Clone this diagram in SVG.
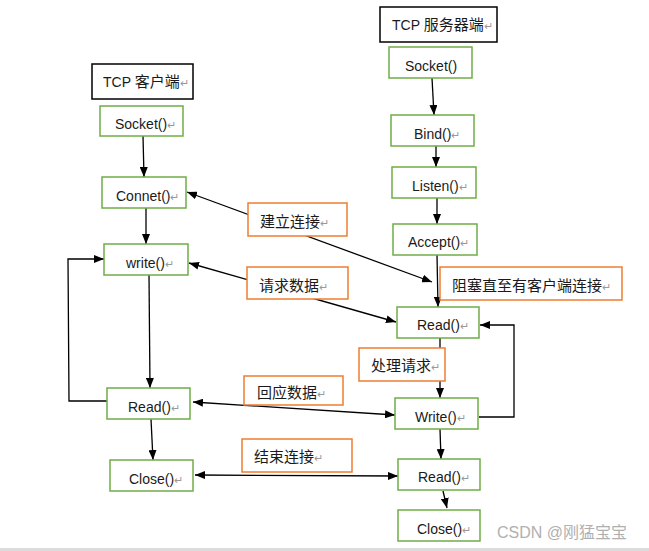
<svg xmlns="http://www.w3.org/2000/svg" width="649" height="551" viewBox="0 0 649 551">
<defs>
<style>
text{font-family:"Liberation Sans","Noto Sans CJK SC",sans-serif;font-size:14px;fill:#1a1a1a}
.cn{font-size:15px}
.r{fill:#999;font-size:11px}
.fn rect{fill:#fff;stroke:#70AD47;stroke-width:1.5}
.lb rect{fill:#fff;stroke:#ED7D31;stroke-width:1.5}
.tt rect{fill:#fff;stroke:#000;stroke-width:1.5}
#connectors line,#connectors polyline{stroke:#000;stroke-width:1.3;fill:none}
.a{marker-end:url(#ah)}
.b{marker-start:url(#ah);marker-end:url(#ah)}
.wm{fill:#b0b0b0;font-size:16px}
</style>
<marker id="ah" viewBox="0 0 10 8" refX="10" refY="4" markerWidth="10" markerHeight="8" markerUnits="userSpaceOnUse" orient="auto-start-reverse">
<path d="M0,0 L10,4 L0,8 Z" fill="#000"/>
</marker>
</defs>
<rect x="0" y="0" width="649" height="551" fill="#fff"/>
<rect x="0" y="548" width="649" height="3" fill="#dcdcdc"/>

<g id="connectors">
<line class="a" x1="143" y1="136" x2="144" y2="177"/>
<line class="a" x1="146" y1="208" x2="146" y2="244"/>
<line class="a" x1="149" y1="275" x2="150" y2="388"/>
<line class="a" x1="151" y1="419" x2="153" y2="460"/>
<polyline class="a" points="107,401 69,401 68,259 104,259"/>
<line class="a" x1="432" y1="78" x2="434" y2="115"/>
<line class="a" x1="436" y1="146" x2="436" y2="167"/>
<line class="a" x1="437" y1="198" x2="437" y2="224"/>
<line class="a" x1="437" y1="255" x2="438" y2="307"/>
<line class="a" x1="440" y1="338" x2="440" y2="398"/>
<line class="a" x1="440" y1="429" x2="441" y2="459"/>
<line class="a" x1="443" y1="491" x2="447" y2="508"/>
<polyline class="a" points="479,417 514,417 514,325 480,325"/>
<line class="b" x1="187" y1="192" x2="432" y2="282"/>
<line class="b" x1="189" y1="263" x2="396" y2="322"/>
<line class="b" x1="193" y1="402" x2="395" y2="415"/>
<line class="b" x1="195" y1="475" x2="398" y2="476"/>
</g>

<g id="client-title" class="tt"><rect x="92" y="64" width="101" height="35"/><text x="103" y="87">TCP <tspan class="cn">客户端</tspan><tspan class="r">↵</tspan></text></g>
<g id="server-title" class="tt"><rect x="380" y="7" width="117" height="35"/><text x="392" y="30">TCP <tspan class="cn">服务器端</tspan><tspan class="r">↵</tspan></text></g>

<g id="c-socket" class="fn"><rect x="100" y="106" width="83" height="30"/><text x="115" y="129">Socket()<tspan class="r">↵</tspan></text></g>
<g id="c-connet" class="fn"><rect x="102" y="177" width="84" height="31"/><text x="116" y="201">Connet()<tspan class="r">↵</tspan></text></g>
<g id="c-write" class="fn"><rect x="104" y="244" width="84" height="31"/><text x="126" y="268">write()<tspan class="r">↵</tspan></text></g>
<g id="c-read" class="fn"><rect x="107" y="388" width="83" height="31"/><text x="128" y="412">Read()<tspan class="r">↵</tspan></text></g>
<g id="c-close" class="fn"><rect x="110" y="460" width="83" height="31"/><text x="129" y="484">Close()<tspan class="r">↵</tspan></text></g>

<g id="s-socket" class="fn"><rect x="389" y="47" width="83" height="31"/><text x="405" y="71">Socket()</text></g>
<g id="s-bind" class="fn"><rect x="391" y="115" width="83" height="31"/><text x="414" y="139">Bind()<tspan class="r">↵</tspan></text></g>
<g id="s-listen" class="fn"><rect x="392" y="167" width="84" height="31"/><text x="412" y="191">Listen()<tspan class="r">↵</tspan></text></g>
<g id="s-accept" class="fn"><rect x="393" y="224" width="84" height="31"/><text x="408" y="247">Accept()<tspan class="r">↵</tspan></text></g>
<g id="s-read" class="fn"><rect x="397" y="307" width="82" height="31"/><text x="417" y="330">Read()<tspan class="r">↵</tspan></text></g>
<g id="s-write" class="fn"><rect x="395" y="398" width="83" height="31"/><text x="415" y="422">Write()<tspan class="r">↵</tspan></text></g>
<g id="s-read2" class="fn"><rect x="398" y="459" width="82" height="31"/><text x="418" y="482">Read()<tspan class="r">↵</tspan></text></g>
<g id="s-close" class="fn"><rect x="398" y="510" width="82" height="31"/><text x="417" y="534">Close()<tspan class="r">↵</tspan></text></g>

<g id="lbl-connect" class="lb"><rect x="248" y="203" width="99" height="33"/><text class="cn" x="260" y="227">建立连接<tspan class="r">↵</tspan></text></g>
<g id="lbl-request" class="lb"><rect x="247" y="267" width="101" height="32"/><text class="cn" x="259" y="291">请求数据<tspan class="r">↵</tspan></text></g>
<g id="lbl-block" class="lb"><rect x="440" y="267" width="182" height="33"/><text class="cn" x="452" y="291">阻塞直至有客户端连接<tspan class="r">↵</tspan></text></g>
<g id="lbl-process" class="lb"><rect x="359" y="348" width="86" height="33"/><text class="cn" x="371" y="371">处理请求<tspan class="r">↵</tspan></text></g>
<g id="lbl-reply" class="lb"><rect x="244" y="376" width="99" height="29"/><text class="cn" x="257" y="398">回应数据<tspan class="r">↵</tspan></text></g>
<g id="lbl-end" class="lb"><rect x="242" y="439" width="110" height="33"/><text class="cn" x="254" y="462">结束连接<tspan class="r">↵</tspan></text></g>

<text class="wm" x="497" y="538">CSDN @刚猛宝宝</text>
</svg>
